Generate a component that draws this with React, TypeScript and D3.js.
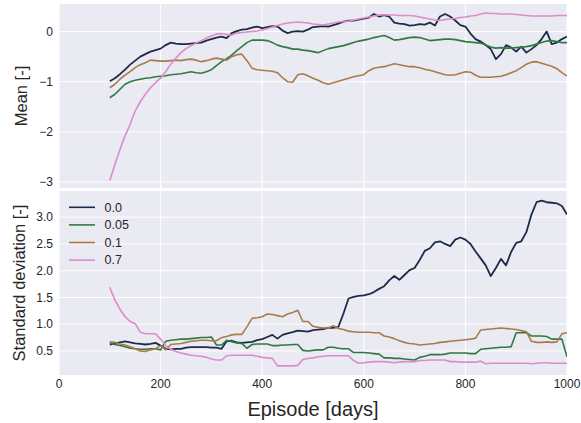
import React from 'react';
import * as d3 from 'd3';

// episodes sampled every 10 days from 100 to 1000
const episodes = d3.range(100, 1001, 10);

const labels = ['0.0', '0.05', '0.1', '0.7'];
const colors = ['#1d2b4b', '#2f7a3f', '#a97b4b', '#dc8ccb'];

const xTicks = [0, 200, 400, 600, 800, 1000];
const meanTicks = [-3, -2, -1, 0];
const stdTicks = [0.5, 1.0, 1.5, 2.0, 2.5, 3.0];

// Mean [-]
const mean00 = [
  -0.99, -0.93, -0.85, -0.76, -0.66, -0.58, -0.5, -0.45, -0.4, -0.37,
  -0.34, -0.27, -0.22, -0.24, -0.25, -0.25, -0.24, -0.23, -0.22, -0.18,
  -0.15, -0.12, -0.1, -0.13, -0.03, 0.01, 0.04, 0.05, 0.08, 0.1,
  0.07, 0.09, 0.11, 0.1, 0.02, -0.03, 0.0, 0.01, 0.0, 0.04,
  0.09, 0.1, 0.11, 0.1, 0.13, 0.16, 0.2, 0.22, 0.22, 0.24,
  0.26, 0.28, 0.35, 0.3, 0.33, 0.3, 0.18, 0.16, 0.15, 0.12,
  0.13, 0.15, 0.14, 0.18, 0.12, 0.3, 0.35, 0.3, 0.22, 0.13,
  0.1, -0.04, -0.15, -0.2, -0.27, -0.35, -0.55, -0.45, -0.27, -0.32,
  -0.4, -0.3, -0.42, -0.35, -0.27, -0.15, 0.0, -0.25, -0.22, -0.15,
  -0.1,
];
const mean005 = [
  -1.32, -1.25, -1.15, -1.05, -1.0, -0.97, -0.95, -0.93, -0.92, -0.9,
  -0.89, -0.88, -0.86, -0.85, -0.84, -0.82, -0.8, -0.82, -0.83, -0.8,
  -0.76, -0.68, -0.6, -0.54, -0.47, -0.38, -0.3, -0.22, -0.17, -0.17,
  -0.17, -0.18, -0.22, -0.27, -0.3, -0.32, -0.35, -0.35, -0.37, -0.38,
  -0.4, -0.42, -0.38, -0.34, -0.32, -0.3, -0.28, -0.25, -0.22, -0.19,
  -0.17, -0.15, -0.12, -0.1, -0.08, -0.12, -0.17, -0.16, -0.14, -0.12,
  -0.11, -0.12, -0.15, -0.18, -0.17, -0.16, -0.15, -0.15, -0.16, -0.18,
  -0.2, -0.21, -0.22, -0.23, -0.27, -0.31, -0.33, -0.32, -0.33, -0.33,
  -0.32, -0.31, -0.3, -0.28, -0.25, -0.22, -0.19, -0.18, -0.2, -0.22,
  -0.22,
];
const mean01 = [
  -1.12, -1.05, -0.95, -0.87, -0.8, -0.72, -0.66, -0.62, -0.57, -0.58,
  -0.59, -0.59, -0.58, -0.57, -0.58, -0.56, -0.55, -0.57, -0.6, -0.58,
  -0.55, -0.53, -0.55, -0.57, -0.5, -0.46, -0.45, -0.58, -0.73, -0.76,
  -0.77, -0.78, -0.79, -0.82, -0.92, -1.0, -1.01, -0.86, -0.84, -0.88,
  -0.93, -0.97, -1.02, -1.05, -1.02, -0.99, -0.96, -0.93, -0.9, -0.88,
  -0.86, -0.78, -0.73, -0.71, -0.7, -0.67, -0.64, -0.66, -0.68, -0.7,
  -0.7, -0.72, -0.75, -0.77, -0.8, -0.83, -0.86, -0.87, -0.86, -0.83,
  -0.8, -0.81, -0.87, -0.91, -0.91, -0.91, -0.9, -0.89, -0.86, -0.82,
  -0.78, -0.72, -0.65, -0.61, -0.6, -0.63, -0.66, -0.69, -0.74, -0.82,
  -0.89,
];
const mean07 = [
  -2.97, -2.65, -2.35, -2.08, -1.85, -1.58, -1.4, -1.25, -1.12, -1.02,
  -0.93, -0.8, -0.65, -0.53, -0.42, -0.34, -0.28, -0.23, -0.18, -0.13,
  -0.09, -0.05, -0.04, -0.06, -0.07, -0.03, -0.02, -0.01, 0.0, 0.01,
  0.03, 0.06, 0.09, 0.12, 0.15, 0.17, 0.18, 0.19, 0.18, 0.17,
  0.15, 0.14, 0.13, 0.15, 0.17, 0.19, 0.2, 0.21, 0.23, 0.25,
  0.27, 0.29, 0.31, 0.33, 0.33, 0.33, 0.33, 0.32, 0.32, 0.32,
  0.31, 0.29, 0.27, 0.25, 0.23, 0.22, 0.24, 0.25, 0.26, 0.28,
  0.29, 0.31, 0.32, 0.35, 0.37, 0.36, 0.36, 0.35, 0.35, 0.35,
  0.34, 0.33, 0.32, 0.31, 0.31, 0.31, 0.31, 0.31, 0.32, 0.32,
  0.32,
];

// Standard deviation [-]
const std00 = [
  0.62, 0.64, 0.66, 0.68, 0.66, 0.64, 0.63, 0.62, 0.63, 0.65,
  0.6, 0.54, 0.53, 0.54, 0.54, 0.56, 0.57, 0.57, 0.57, 0.57,
  0.56, 0.56, 0.54, 0.68, 0.69, 0.66, 0.65, 0.66, 0.67, 0.7,
  0.72, 0.76, 0.8, 0.73, 0.8, 0.83, 0.85, 0.88, 0.87, 0.86,
  0.89, 0.9, 0.91, 0.93, 0.93, 0.95, 1.2, 1.48, 1.51, 1.53,
  1.54, 1.56, 1.6, 1.66, 1.71, 1.82, 1.9, 1.83, 1.92, 2.01,
  2.05, 2.2, 2.37, 2.42, 2.53, 2.55, 2.5, 2.46, 2.58, 2.62,
  2.58, 2.5, 2.36, 2.23, 2.1, 1.9, 2.05, 2.22, 2.1, 2.35,
  2.52, 2.55, 2.72, 3.05, 3.28, 3.31, 3.28, 3.27, 3.26, 3.21,
  3.05,
];
const std005 = [
  0.65, 0.62, 0.6, 0.58, 0.55, 0.54, 0.53, 0.53, 0.54, 0.54,
  0.52, 0.68, 0.7, 0.71, 0.72, 0.72, 0.73, 0.74, 0.75, 0.75,
  0.76, 0.61, 0.61, 0.7, 0.67, 0.65, 0.64, 0.55, 0.62, 0.63,
  0.63, 0.63, 0.6, 0.6, 0.61, 0.61, 0.62, 0.62, 0.51, 0.5,
  0.51, 0.52, 0.52, 0.57, 0.57, 0.55, 0.54, 0.54, 0.47, 0.47,
  0.47, 0.46, 0.45, 0.44, 0.37, 0.37, 0.36, 0.36, 0.35, 0.34,
  0.33, 0.38, 0.4, 0.43, 0.43, 0.43, 0.44, 0.46, 0.46, 0.46,
  0.46, 0.45, 0.45, 0.53, 0.54, 0.55, 0.56, 0.57, 0.57, 0.58,
  0.84, 0.84, 0.84, 0.78, 0.78, 0.78, 0.77, 0.72, 0.72, 0.72,
  0.39,
];
const std01 = [
  0.67, 0.66, 0.63, 0.61, 0.58, 0.54, 0.5, 0.49, 0.52, 0.54,
  0.6, 0.52, 0.62, 0.63, 0.64, 0.66, 0.68, 0.69, 0.7, 0.7,
  0.69, 0.69, 0.75, 0.77, 0.8, 0.81, 0.81, 0.95, 1.11, 1.12,
  1.14, 1.19, 1.18, 1.16, 1.14, 1.19, 1.22, 1.26, 1.05, 1.05,
  0.96, 0.94, 0.93, 0.93, 0.97, 0.92, 0.9, 0.87, 0.86, 0.85,
  0.85, 0.85, 0.84, 0.84, 0.78, 0.76, 0.73, 0.69, 0.66, 0.64,
  0.63, 0.61, 0.62, 0.63, 0.64, 0.66, 0.67, 0.68, 0.69, 0.7,
  0.71, 0.72, 0.74, 0.89, 0.9, 0.91, 0.92, 0.93, 0.92, 0.91,
  0.9, 0.88, 0.86, 0.68, 0.66, 0.66, 0.67, 0.66, 0.67, 0.82,
  0.84,
];
const std07 = [
  1.69, 1.45, 1.28, 1.14, 1.05, 1.01, 0.85, 0.82, 0.82, 0.82,
  0.72, 0.6, 0.53, 0.49, 0.46, 0.44, 0.42, 0.41, 0.4, 0.38,
  0.35, 0.33, 0.33, 0.41, 0.42, 0.42, 0.42, 0.42, 0.42, 0.4,
  0.38, 0.37, 0.36, 0.22, 0.22, 0.22, 0.22, 0.23, 0.34, 0.36,
  0.37, 0.39, 0.4, 0.41, 0.41, 0.41, 0.41, 0.41, 0.32, 0.27,
  0.28, 0.29, 0.3, 0.3, 0.3, 0.29, 0.28, 0.29, 0.3, 0.3,
  0.3, 0.32, 0.32, 0.33, 0.33, 0.33, 0.33, 0.3, 0.3, 0.29,
  0.29, 0.29, 0.29, 0.31, 0.26, 0.27, 0.27, 0.27, 0.27, 0.27,
  0.27, 0.27, 0.27, 0.26, 0.27, 0.28, 0.28, 0.27, 0.27, 0.27,
  0.27,
];

const meanSeries = [mean00, mean005, mean01, mean07];
const stdSeries = [std00, std005, std01, std07];

const W = 581;
const H = 423;
const left = 59;
const right = 567;
const top1 = 4;
const bot1 = 188;
const top2 = 191;
const bot2 = 375;
const font = '"Liberation Sans", Arial, sans-serif';
const textColor = '#262626';
const bg = '#eaeaf2';

const fmtMinus = (v: number) => (v < 0 ? '\u2212' + Math.abs(v) : String(v));

export default function App() {
  const x = d3.scaleLinear().domain([0, 1000]).range([left, right]);
  const yMean = d3.scaleLinear().domain([-3.12, 0.55]).range([bot1, top1]);
  const yStd = d3.scaleLinear().domain([0.05, 3.49]).range([bot2, top2]);

  const lineFor = (y: d3.ScaleLinear<number, number>) =>
    d3
      .line<number>()
      .x((_, i) => x(episodes[i]))
      .y((d) => y(d));

  const meanLine = lineFor(yMean);
  const stdLine = lineFor(yStd);

  const panel = (
    y: d3.ScaleLinear<number, number>,
    ticks: number[],
    fmt: (v: number) => string,
    t: number,
    b: number,
    series: number[][],
    line: d3.Line<number>,
    clipId: string
  ) => (
    <g>
      <defs>
        <clipPath id={clipId}>
          <rect x={left} y={t} width={right - left} height={b - t} />
        </clipPath>
      </defs>
      <rect x={left} y={t} width={right - left} height={b - t} fill={bg} />
      {ticks.map((v) => (
        <line key={'h' + v} x1={left} x2={right} y1={y(v)} y2={y(v)} stroke="#fff" strokeWidth={1} />
      ))}
      {xTicks.map((v) => (
        <line key={'v' + v} x1={x(v)} x2={x(v)} y1={t} y2={b} stroke="#fff" strokeWidth={1} />
      ))}
      {ticks.map((v) => (
        <text
          key={'t' + v}
          x={53}
          y={y(v)}
          dy="0.35em"
          textAnchor="end"
          fontSize={12}
          fill={textColor}
          fontFamily={font}
        >
          {fmt(v)}
        </text>
      ))}
      <g clipPath={`url(#${clipId})`}>
        {series.map((s, i) => (
          <path
            key={i}
            d={line(s) || ''}
            fill="none"
            stroke={colors[i]}
            strokeWidth={i === 0 ? 1.8 : 1.6}
            strokeLinejoin="round"
          />
        ))}
      </g>
    </g>
  );

  return (
    <svg
      width={W}
      height={H}
      style={{ position: 'absolute', left: 0, top: 0, background: '#fff' }}
    >
      {panel(yMean, meanTicks, fmtMinus, top1, bot1, meanSeries, meanLine, 'c1')}
      {panel(yStd, stdTicks, (v) => v.toFixed(1), top2, bot2, stdSeries, stdLine, 'c2')}

      {xTicks.map((v) => (
        <text
          key={'x' + v}
          x={x(v)}
          y={388}
          textAnchor="middle"
          fontSize={12}
          fill={textColor}
          fontFamily={font}
        >
          {v}
        </text>
      ))}
      <text x={(left + right) / 2} y={416} textAnchor="middle" fontSize={20} fill={textColor} fontFamily={font}>
        Episode [days]
      </text>
      <text
        transform={`translate(27,${(top1 + bot1) / 2}) rotate(-90)`}
        textAnchor="middle"
        fontSize={16.5}
        fill={textColor}
        fontFamily={font}
      >
        Mean [-]
      </text>
      <text
        transform={`translate(25,${(top2 + bot2) / 2}) rotate(-90)`}
        textAnchor="middle"
        fontSize={16.5}
        fill={textColor}
        fontFamily={font}
      >
        Standard deviation [-]
      </text>

      {labels.map((l, i) => (
        <g key={l} transform={`translate(0,${207.3 + i * 17.6})`}>
          <line x1={69} x2={95} y1={0} y2={0} stroke={colors[i]} strokeWidth={1.6} />
          <text x={104.5} y={0} dy="0.35em" fontSize={12.5} fill={textColor} fontFamily={font}>
            {l}
          </text>
        </g>
      ))}
    </svg>
  );
}
